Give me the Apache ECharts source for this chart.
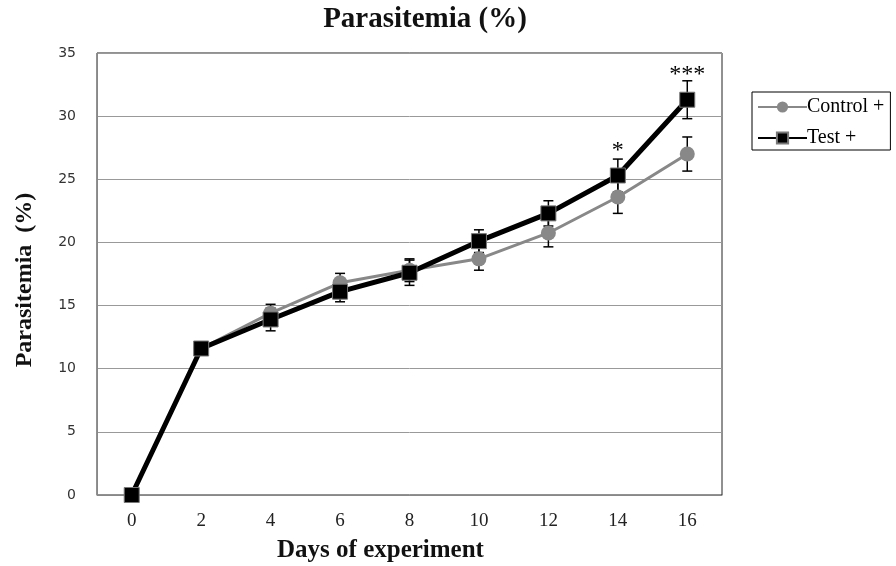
<!DOCTYPE html>
<html>
<head>
<meta charset="utf-8">
<script src="https://cdn.jsdelivr.net/npm/echarts@6/dist/echarts.min.js"></script>
<style>
  html, body { margin: 0; padding: 0; background: #fff; }
  #chart { width: 896px; height: 566px; }
</style>
</head>
<body>
<div id="chart"></div>
<script>
// data
const days = ['0', '2', '4', '6', '8', '10', '12', '14', '16']
const controlMean = [0, 11.6, 14.4, 16.8, 17.8, 18.7, 20.75, 23.6, 27.0]
const controlErr = [0, 0, 0.7, 0.75, 0.9, 0.9, 1.1, 1.3, 1.35]
const testMean = [0, 11.6, 13.9, 16.1, 17.6, 20.1, 22.3, 25.3, 31.3]
const testErr = [0, 0, 0.9, 0.8, 1.0, 0.9, 1.0, 1.3, 1.5]
const signif = ['', '', '', '', '', '', '', '*', '***']
const yTicks = [0, 5, 10, 15, 20, 25, 30, 35]

const serif = '"Liberation Serif", "Times New Roman", serif'
const chart = echarts.init(document.getElementById('chart'))

function errData(mean, err) {
  return mean.map((m, i) => [i, m - err[i], m + err[i]])
}

function renderErr(params, api) {
  const lo = api.value(1)
  const hi = api.value(2)
  if (hi - lo <= 0) return
  const top = api.coord([api.value(0), hi])
  const bot = api.coord([api.value(0), lo])
  const half = 5
  const style = { stroke: '#000', lineWidth: 1.5 }
  return {
    type: 'group',
    children: [
      { type: 'line', shape: { x1: top[0], y1: top[1], x2: bot[0], y2: bot[1] }, style },
      { type: 'line', shape: { x1: top[0] - half, y1: top[1], x2: top[0] + half, y2: top[1] }, style },
      { type: 'line', shape: { x1: bot[0] - half, y1: bot[1], x2: bot[0] + half, y2: bot[1] }, style }
    ]
  }
}

const option = {
  animation: false,
  backgroundColor: '#fff',
  title: {
    text: 'Parasitemia (%)',
    left: 420,
    top: 0,
    textAlign: 'center',
    textStyle: { fontFamily: serif, fontWeight: 'bold', fontSize: 29, color: '#111' }
  },
  legend: {
    orient: 'vertical',
    left: 752,
    top: 92,
    padding: [5, 6, 2, 5],
    itemWidth: 49,
    itemHeight: 14,
    itemGap: 11,
    borderColor: '#000',
    borderWidth: 1,
    data: ['Control +', 'Test +'],
    textStyle: { fontFamily: serif, fontSize: 20, color: '#000', padding: [0, 0, 0, -5] }
  },
  grid: {
    left: 97, right: 174, top: 53, bottom: 71,
    outerBoundsMode: 'none',
    containLabel: false,
    show: true, borderColor: '#222', borderWidth: 1
  },
  xAxis: {
    type: 'category',
    data: days,
    boundaryGap: true,
    axisLine: { lineStyle: { color: '#888', width: 1 } },
    axisTick: { show: false },
    axisLabel: { fontFamily: serif, fontSize: 19, color: '#222', margin: 17 },
    name: 'Days of experiment',
    nameLocation: 'middle',
    nameGap: 43,
    nameTextStyle: {
      fontFamily: serif, fontWeight: 'bold', fontSize: 25, color: '#111',
      padding: [0, 58, 0, 0]
    }
  },
  yAxis: {
    type: 'value',
    min: yTicks[0],
    max: yTicks[yTicks.length - 1],
    interval: 5,
    axisLine: { show: true, lineStyle: { color: '#888', width: 1 } },
    axisTick: { show: false },
    splitLine: { lineStyle: { color: '#999', width: 1 } },
    axisLabel: { fontFamily: '"DejaVu Sans", Verdana, sans-serif', fontSize: 14, color: '#333', margin: 21 }
  },
  graphic: [{
    type: 'text',
    x: 25,
    y: 280,
    rotation: Math.PI / 2,
    style: {
      text: 'Parasitemia  (%)',
      font: 'bold 24px ' + serif,
      fill: '#111',
      align: 'center',
      verticalAlign: 'middle'
    }
  }],
  series: [
    {
      type: 'custom',
      name: 'cErr',
      renderItem: renderErr,
      data: errData(controlMean, controlErr),
      z: 1,
      silent: true
    },
    {
      type: 'custom',
      name: 'tErr',
      renderItem: renderErr,
      data: errData(testMean, testErr),
      z: 1,
      silent: true
    },
    {
      name: 'Control +',
      type: 'line',
      data: controlMean,
      z: 2,
      symbol: 'circle',
      symbolSize: 15,
      lineStyle: { color: '#888', width: 3 },
      itemStyle: { color: '#888', borderColor: '#888', borderWidth: 0 }
    },
    {
      name: 'Test +',
      type: 'line',
      data: testMean.map((v, i) => ({
        value: v,
        label: {
          show: signif[i] !== '',
          formatter: signif[i],
          position: 'top',
          distance: 5,
          fontFamily: serif,
          fontSize: 24,
          color: '#000'
        }
      })),
      z: 3,
      symbol: 'rect',
      symbolSize: 15,
      lineStyle: { color: '#000', width: 5 },
      itemStyle: { color: '#000', borderColor: '#777', borderWidth: 1 }
    }
  ]
}

chart.setOption(option)
</script>
</body>
</html>
